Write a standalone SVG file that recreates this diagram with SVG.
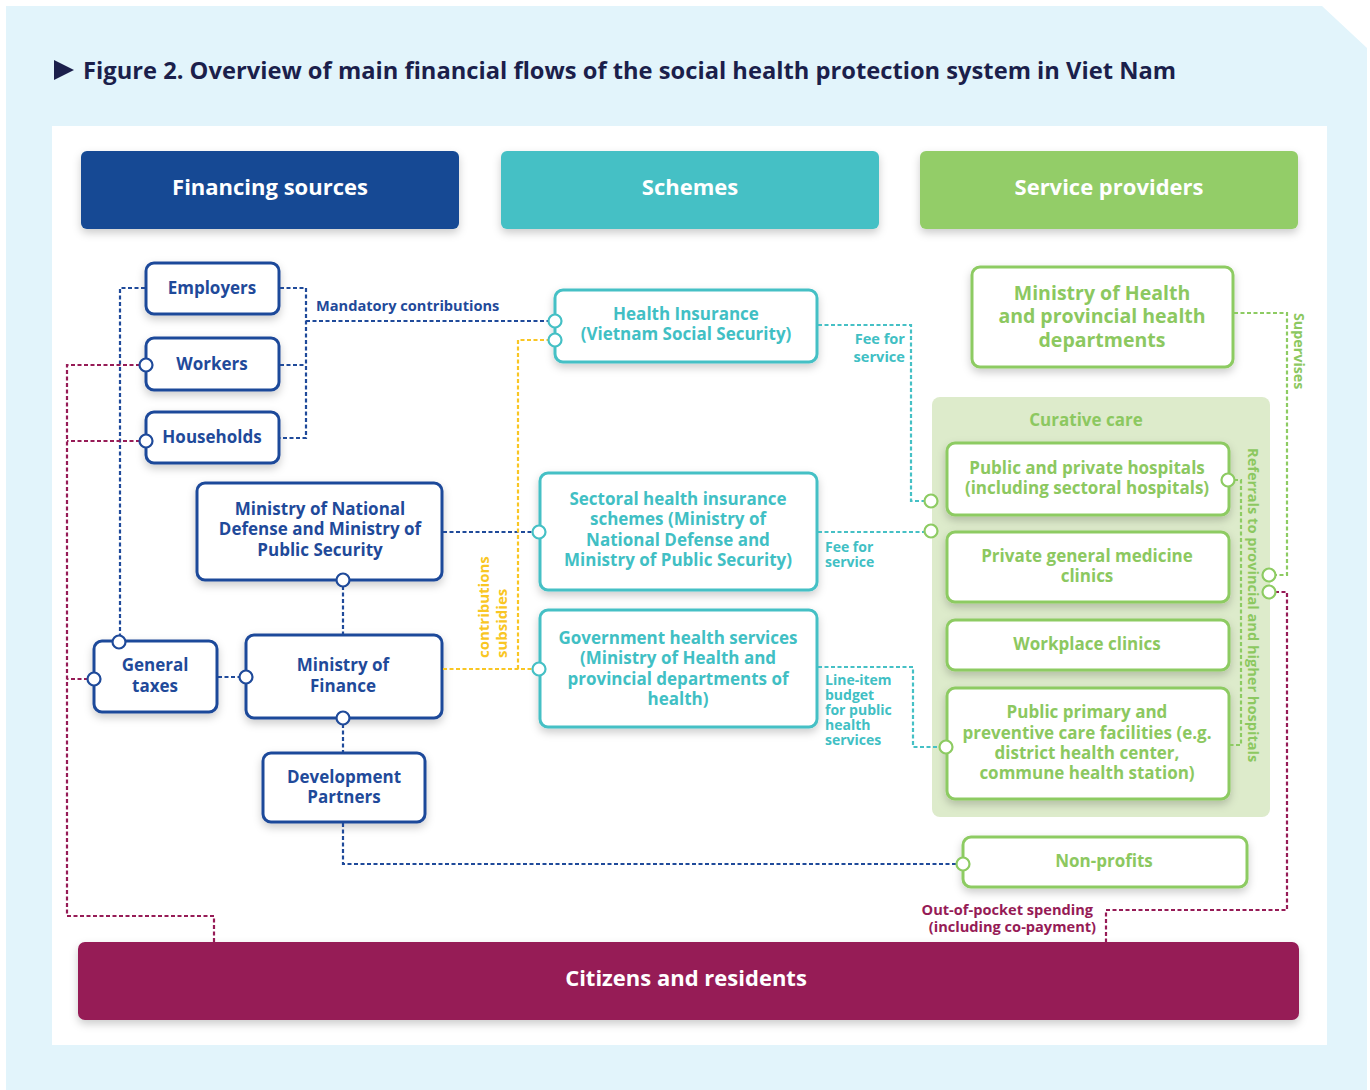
<svg xmlns="http://www.w3.org/2000/svg" width="1370" height="1090" viewBox="0 0 1370 1090">
<defs>
<filter id="sh" x="-10%" y="-20%" width="120%" height="160%">
<feDropShadow dx="0" dy="4" stdDeviation="4" flood-color="#000" flood-opacity="0.2"/>
</filter>
<style>
text{font-family:"Open Sans","Noto Sans","DejaVu Sans",sans-serif;font-weight:700;}
.nb{fill:#fff;stroke:#1F4A9A;stroke-width:3;}
.nt{fill:#fff;stroke:#45C0C5;stroke-width:3;}
.ng{fill:#fff;stroke:#8DCB62;stroke-width:3;}
.tb{fill:#1F4A9A;font-size:17px;text-anchor:middle;}
.tt{fill:#41BFC4;font-size:17px;text-anchor:middle;}
.tg{fill:#8CC860;font-size:17px;text-anchor:middle;}
.hd{fill:#fff;font-size:22px;text-anchor:middle;}
.c{fill:none;stroke-width:2.2;stroke-dasharray:4 2.5;}
.cb{stroke:#1F4A9A;}
.cy{stroke:#F9C623;}
.ct{stroke:#45C0C5;}
.cg{stroke:#8DCB62;}
.cm{stroke:#961B56;}
.pb{fill:#fff;stroke:#1F4A9A;stroke-width:2.2;}
.pt{fill:#fff;stroke:#45C0C5;stroke-width:2.2;}
.pg{fill:#fff;stroke:#8DCB62;stroke-width:2.2;}
.lb{font-size:14.6px;}
.ls{font-size:14px;}
</style>
</defs>
<polygon points="6,6 1322,6 1367,48 1367,1090 6,1090" fill="#E2F4FB"/>
<rect x="52" y="126" width="1275" height="919" fill="#fff"/>
<polygon points="54,60 74,70 54,80" fill="#1B1F4B"/>
<text x="83" y="79" font-size="24" fill="#1B1F4B" textLength="1093" lengthAdjust="spacingAndGlyphs">Figure 2. Overview of main financial flows of the social health protection system in Viet Nam</text>

<g id="hdr-financing"><rect x="81" y="151" width="378" height="78" rx="6" fill="#124A94" filter="url(#sh)"/><text class="hd" x="270" y="195">Financing sources</text></g>
<g id="hdr-schemes"><rect x="501" y="151" width="378" height="78" rx="6" fill="#45C0C5" filter="url(#sh)"/><text class="hd" x="690" y="195">Schemes</text></g>
<g id="hdr-providers"><rect x="920" y="151" width="378" height="78" rx="6" fill="#93CD67" filter="url(#sh)"/><text class="hd" x="1109" y="195">Service providers</text></g>

<g id="curative-care"><rect x="932" y="397" width="338" height="420" rx="8" fill="#DDEBCB"/><text class="tg" x="1086" y="426">Curative care</text></g>

<g id="employers"><rect class="nb" x="146" y="263" width="133" height="51" rx="8" filter="url(#sh)"/><text class="tb" x="212" y="294">Employers</text></g>
<g id="workers"><rect class="nb" x="146" y="338" width="133" height="52" rx="8" filter="url(#sh)"/><text class="tb" x="212" y="370">Workers</text></g>
<g id="households"><rect class="nb" x="146" y="412" width="133" height="51" rx="8" filter="url(#sh)"/><text class="tb" x="212" y="443">Households</text></g>
<g id="mond"><rect class="nb" x="197" y="483" width="245" height="97" rx="8" filter="url(#sh)"/><text class="tb"><tspan x="320" y="515">Ministry of National</tspan><tspan x="320" y="535">Defense and Ministry of</tspan><tspan x="320" y="556">Public Security</tspan></text></g>
<g id="general-taxes"><rect class="nb" x="94" y="641" width="123" height="71" rx="8" filter="url(#sh)"/><text class="tb"><tspan x="155" y="671">General</tspan><tspan x="155" y="692">taxes</tspan></text></g>
<g id="mof"><rect class="nb" x="246" y="635" width="196" height="83" rx="8" filter="url(#sh)"/><text class="tb"><tspan x="343" y="671">Ministry of</tspan><tspan x="343" y="692">Finance</tspan></text></g>
<g id="dev-partners"><rect class="nb" x="263" y="753" width="162" height="69" rx="8" filter="url(#sh)"/><text class="tb"><tspan x="344" y="783">Development</tspan><tspan x="344" y="803">Partners</tspan></text></g>

<g id="health-insurance"><rect class="nt" x="555" y="290" width="262" height="72" rx="8" filter="url(#sh)"/><text class="tt"><tspan x="686" y="320">Health Insurance</tspan><tspan x="686" y="340">(Vietnam Social Security)</tspan></text></g>
<g id="sectoral"><rect class="nt" x="540" y="473" width="277" height="117" rx="8" filter="url(#sh)"/><text class="tt"><tspan x="678" y="505">Sectoral health insurance</tspan><tspan x="678" y="525">schemes (Ministry of</tspan><tspan x="678" y="546">National Defense and</tspan><tspan x="678" y="566">Ministry of Public Security)</tspan></text></g>
<g id="gov-health"><rect class="nt" x="540" y="610" width="277" height="117" rx="8" filter="url(#sh)"/><text class="tt"><tspan x="678" y="644">Government health services</tspan><tspan x="678" y="664">(Ministry of Health and</tspan><tspan x="678" y="685">provincial departments of</tspan><tspan x="678" y="705">health)</tspan></text></g>

<g id="moh"><rect class="ng" x="972" y="267" width="261" height="100" rx="8" filter="url(#sh)"/><text class="tg" style="font-size:19.5px"><tspan x="1102" y="300">Ministry of Health</tspan><tspan x="1102" y="323">and provincial health</tspan><tspan x="1102" y="347">departments</tspan></text></g>
<g id="hospitals"><rect class="ng" x="947" y="443" width="282" height="72" rx="8" filter="url(#sh)"/><text class="tg"><tspan x="1087" y="474">Public and private hospitals</tspan><tspan x="1087" y="494">(including sectoral hospitals)</tspan></text></g>
<g id="private-clinics"><rect class="ng" x="947" y="532" width="282" height="70" rx="8" filter="url(#sh)"/><text class="tg"><tspan x="1087" y="562">Private general medicine</tspan><tspan x="1087" y="582">clinics</tspan></text></g>
<g id="workplace-clinics"><rect class="ng" x="947" y="620" width="282" height="50" rx="8" filter="url(#sh)"/><text class="tg" x="1087" y="650">Workplace clinics</text></g>
<g id="primary-care"><rect class="ng" x="947" y="688" width="282" height="111" rx="8" filter="url(#sh)"/><text class="tg"><tspan x="1087" y="718">Public primary and</tspan><tspan x="1087" y="739">preventive care facilities (e.g.</tspan><tspan x="1087" y="759">district health center,</tspan><tspan x="1087" y="779">commune health station)</tspan></text></g>
<g id="non-profits"><rect class="ng" x="963" y="837" width="284" height="50" rx="8" filter="url(#sh)"/><text class="tg" x="1104" y="867">Non-profits</text></g>

<g id="citizens"><rect x="78" y="942" width="1221" height="78" rx="7" fill="#961B56" filter="url(#sh)"/><text x="686" y="986" font-size="22" fill="#fff" text-anchor="middle">Citizens and residents</text></g>

<g id="connectors">
<path class="c cb" d="M280,288 H306 V438 H280 M280,365 H306 M306,321 H549"/>
<path class="c cb" d="M145,288 H120 V636"/>
<path class="c cb" d="M443,532 H533"/>
<path class="c cb" d="M343,586 V634"/>
<path class="c cb" d="M218,677 H240"/>
<path class="c cb" d="M343,724 V752"/>
<path class="c cb" d="M343,823 V864 H957"/>
<path class="c cy" d="M443,669 H533 M518,669 V340 H549"/>
<path class="c ct" d="M818,325 H911 V501 H925"/>
<path class="c ct" d="M818,532 H925"/>
<path class="c ct" d="M818,667 H913 V747 H940"/>
<path class="c cg" d="M1234,313 H1287 V575 H1275"/>
<path class="c cg" d="M1234,480 H1241 V745 H1230"/>
<path class="c cm" d="M140,365 H67 V916 H214 V942 M140,441 H67 M88,679 H67"/>
<path class="c cm" d="M1275,592 H1287 V910 H1106 V942"/>
<circle class="pt" cx="555" cy="321" r="6.5"/>
<circle class="pt" cx="555" cy="340" r="6.5"/>
<circle class="pb" cx="146" cy="365" r="6.5"/>
<circle class="pb" cx="146" cy="441" r="6.5"/>
<circle class="pb" cx="119" cy="642" r="6.5"/>
<circle class="pb" cx="94" cy="679" r="6.5"/>
<circle class="pb" cx="246" cy="677" r="6.5"/>
<circle class="pb" cx="343" cy="580" r="6.5"/>
<circle class="pb" cx="343" cy="718" r="6.5"/>
<circle class="pt" cx="539" cy="532" r="6.5"/>
<circle class="pt" cx="539" cy="669" r="6.5"/>
<circle class="pg" cx="931" cy="501" r="6.5"/>
<circle class="pg" cx="931" cy="531" r="6.5"/>
<circle class="pg" cx="946" cy="747" r="6.5"/>
<circle class="pg" cx="1228" cy="480" r="6.5"/>
<circle class="pg" cx="1269" cy="575" r="6.5"/>
<circle class="pg" cx="1269" cy="592" r="6.5"/>
<circle class="pg" cx="963" cy="864" r="6.5"/>
<text class="lb" x="316" y="311" fill="#1F4A9A">Mandatory contributions</text>
<text class="lb" x="905" y="344" fill="#41BFC4" text-anchor="end">Fee for</text>
<text class="lb" x="905" y="362" fill="#41BFC4" text-anchor="end">service</text>
<text class="ls" x="825" y="552" fill="#41BFC4">Fee for</text>
<text class="ls" x="825" y="567" fill="#41BFC4">service</text>
<text class="ls" fill="#41BFC4"><tspan x="825" y="685">Line-item</tspan><tspan x="825" y="700">budget</tspan><tspan x="825" y="715">for public</tspan><tspan x="825" y="730">health</tspan><tspan x="825" y="745">services</tspan></text>
<text font-size="15" font-weight="600" fill="#F9C623" transform="translate(489,658) rotate(-90)">contributions</text>
<text font-size="15" font-weight="600" fill="#F9C623" transform="translate(507,658) rotate(-90)">subsidies</text>
<text font-size="14.3" font-weight="600" fill="#8CC860" transform="translate(1294,313) rotate(90)">Supervises</text>
<text font-size="14.6" font-weight="600" fill="#8CC860" transform="translate(1248,448) rotate(90)">Referrals to provincial and higher hospitals</text>
<text class="lb" x="1093" y="915" fill="#961B56" text-anchor="end">Out-of-pocket spending</text>
<text class="lb" x="1096" y="932" fill="#961B56" text-anchor="end">(including co-payment)</text>
</g>
</svg>
